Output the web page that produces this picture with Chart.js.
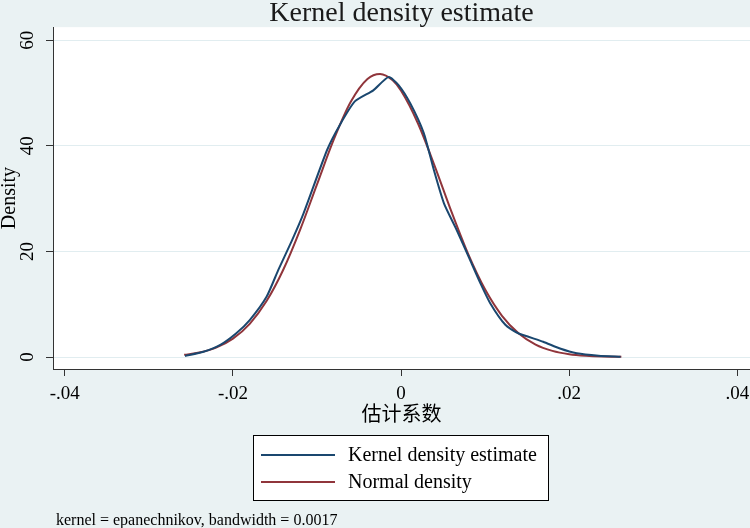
<!DOCTYPE html>
<html>
<head>
<meta charset="utf-8">
<script src="https://cdn.jsdelivr.net/npm/chart.js@4.4.1/dist/chart.umd.min.js"></script>
<style>
    html, body { margin: 0; padding: 0; background: #eaf2f3; }
    #wrap { width: 750px; height: 528px; }
</style>
</head>
<body>
<div id="wrap"><canvas id="myChart" width="750" height="528"></canvas></div>
<script>
// kernel density estimate
var kernelX = [-0.0257, -0.0235, -0.0215, -0.0196, -0.0180, -0.0160, -0.0146, -0.0130, -0.0116, -0.0088, -0.0073, -0.0055, -0.0033, -0.0015, -0.0003,
    0.0011, 0.0027, 0.0039, 0.0051, 0.0066, 0.0082, 0.0094, 0.0106, 0.0124, 0.0138, 0.0169, 0.0189, 0.0209, 0.0235, 0.0261];
var kernelY = [0.2, 1.0, 2.3, 4.5, 7.0, 11.4, 16.5, 22.0, 27.2, 39.2, 43.9, 48.4, 50.5, 53.0, 51.5,
    48.0, 42.4, 35.4, 29.1, 24.1, 18.4, 14.1, 10.2, 6.1, 4.6, 2.9, 1.6, 0.7, 0.25, 0.05];

// normal density overlay
var normalX = [-0.0258, -0.024, -0.022, -0.020, -0.018, -0.016, -0.014, -0.012, -0.010, -0.008, -0.006, -0.004, -0.0025, -0.001,
    0, 0.002, 0.004, 0.006, 0.008, 0.010, 0.012, 0.014, 0.016, 0.018, 0.020, 0.022, 0.024, 0.0262];
var normalY = [0.41, 0.86, 1.79, 3.48, 6.29, 10.59, 16.57, 24.13, 32.69, 41.19, 48.28, 52.66, 53.6, 52.4,
    50.43, 44.27, 36.16, 27.48, 19.43, 12.77, 7.81, 4.45, 2.35, 1.16, 0.53, 0.23, 0.09, 0.03];

var seriesNames = ['Kernel density estimate', 'Normal density'];
var xTicks = [-0.04, -0.02, 0, 0.02, 0.04];
var yTicks = [0, 20, 40, 60];
var noteText = 'kernel = epanechnikov, bandwidth = 0.0017';

var navy = '#1a476f';
var maroon = '#90353b';
var serif = '"Liberation Serif", "Times New Roman", "Noto Sans CJK SC", serif';

function toPoints(xs, ys) {
    return xs.map(function (x, i) {
        return { x: x, y: ys[i] };
    });
}

function fmtX(v) {
    if (Math.abs(v) < 1e-9) return '0';
    return v.toFixed(2).replace('0.', '.');
}

var stataBackground = {
    id: 'stataBackground',
    beforeDraw: function (chart) {
        var ctx = chart.ctx, a = chart.chartArea;
        ctx.save();
        ctx.fillStyle = '#eaf2f3';
        ctx.fillRect(0, 0, chart.width, chart.height);
        ctx.fillStyle = '#ffffff';
        ctx.fillRect(a.left, a.top, a.right - a.left, a.bottom - a.top);
        ctx.restore();
    }
};

var stataLegend = {
    id: 'stataLegend',
    afterDraw: function (chart) {
        var ctx = chart.ctx;
        var colors = [navy, maroon];
        var rows = [455, 482];
        ctx.save();
        ctx.fillStyle = '#ffffff';
        ctx.fillRect(253.5, 435.5, 295, 65);
        ctx.strokeStyle = '#000000';
        ctx.lineWidth = 1;
        ctx.strokeRect(253.5, 435.5, 295, 65);
        ctx.font = '20px ' + serif;
        ctx.textBaseline = 'middle';
        seriesNames.forEach(function (name, i) {
            ctx.strokeStyle = colors[i];
            ctx.lineWidth = 2;
            ctx.beginPath();
            ctx.moveTo(261, rows[i]);
            ctx.lineTo(335, rows[i]);
            ctx.stroke();
            ctx.fillStyle = '#000000';
            ctx.fillText(name, 348, rows[i] + 1);
        });
        ctx.font = '16px ' + serif;
        ctx.textBaseline = 'alphabetic';
        ctx.fillText(noteText, 56, 525);
        ctx.restore();
    }
};

var ctx = document.getElementById('myChart').getContext('2d');
var chart = new Chart(ctx, {
    type: 'line',
    data: {
        datasets: [
            {
                label: seriesNames[0],
                data: toPoints(kernelX, kernelY),
                borderColor: navy,
                borderWidth: 2,
                pointRadius: 0,
                tension: 0.2,
                fill: false
            },
            {
                label: seriesNames[1],
                data: toPoints(normalX, normalY),
                borderColor: maroon,
                borderWidth: 2,
                pointRadius: 0,
                cubicInterpolationMode: 'monotone',
                fill: false
            }
        ]
    },
    options: {
        responsive: false,
        animation: false,
        layout: { padding: { top: 0, left: 0, right: 0, bottom: 100 } },
        plugins: {
            legend: { display: false },
            tooltip: { enabled: false },
            title: {
                display: true,
                text: 'Kernel density estimate',
                fullSize: false,
                color: '#1a1a1a',
                font: { family: serif, size: 28, weight: 'normal', lineHeight: 0.97 },
                padding: { top: 0, bottom: 0 }
            }
        },
        scales: {
            x: {
                type: 'linear',
                min: -0.0414,
                max: 0.0415,
                afterFit: function (s) {
                    s.height = 59;
                    s.paddingLeft = 0;
                    s.paddingRight = 0;
                },
                afterBuildTicks: function (s) {
                    s.ticks = xTicks.map(function (v) { return { value: v }; });
                },
                ticks: {
                    callback: fmtX,
                    color: '#000000',
                    font: { family: serif, size: 19 },
                    padding: 7,
                    maxRotation: 0
                },
                grid: {
                    display: true,
                    drawOnChartArea: false,
                    drawTicks: true,
                    tickLength: 7,
                    tickColor: '#333333'
                },
                border: { display: true, color: '#333333', width: 1 },
                title: {
                    display: true,
                    text: '估计系数',
                    color: '#000000',
                    font: { family: serif, size: 20, lineHeight: 1 },
                    padding: { top: 0, bottom: 2 }
                }
            },
            y: {
                type: 'linear',
                min: -2.27,
                max: 62.46,
                afterFit: function (s) {
                    s.width = 53;
                    s.paddingTop = 0;
                    s.paddingBottom = 0;
                },
                afterBuildTicks: function (s) {
                    s.ticks = yTicks.map(function (v) { return { value: v }; });
                },
                ticks: {
                    callback: function (v) { return String(v); },
                    color: '#000000',
                    font: { family: serif, size: 19 },
                    minRotation: 90,
                    maxRotation: 90,
                    crossAlign: 'center',
                    padding: 8
                },
                grid: {
                    display: true,
                    drawOnChartArea: true,
                    color: '#e1edf0',
                    drawTicks: true,
                    tickLength: 7,
                    tickColor: '#333333'
                },
                border: { display: true, color: '#333333', width: 1 },
                title: {
                    display: true,
                    text: 'Density',
                    color: '#000000',
                    font: { family: serif, size: 20, lineHeight: 1 },
                    padding: { top: 0, bottom: 0 }
                }
            }
        }
    },
    plugins: [stataBackground, stataLegend]
});
</script>
</body>
</html>
